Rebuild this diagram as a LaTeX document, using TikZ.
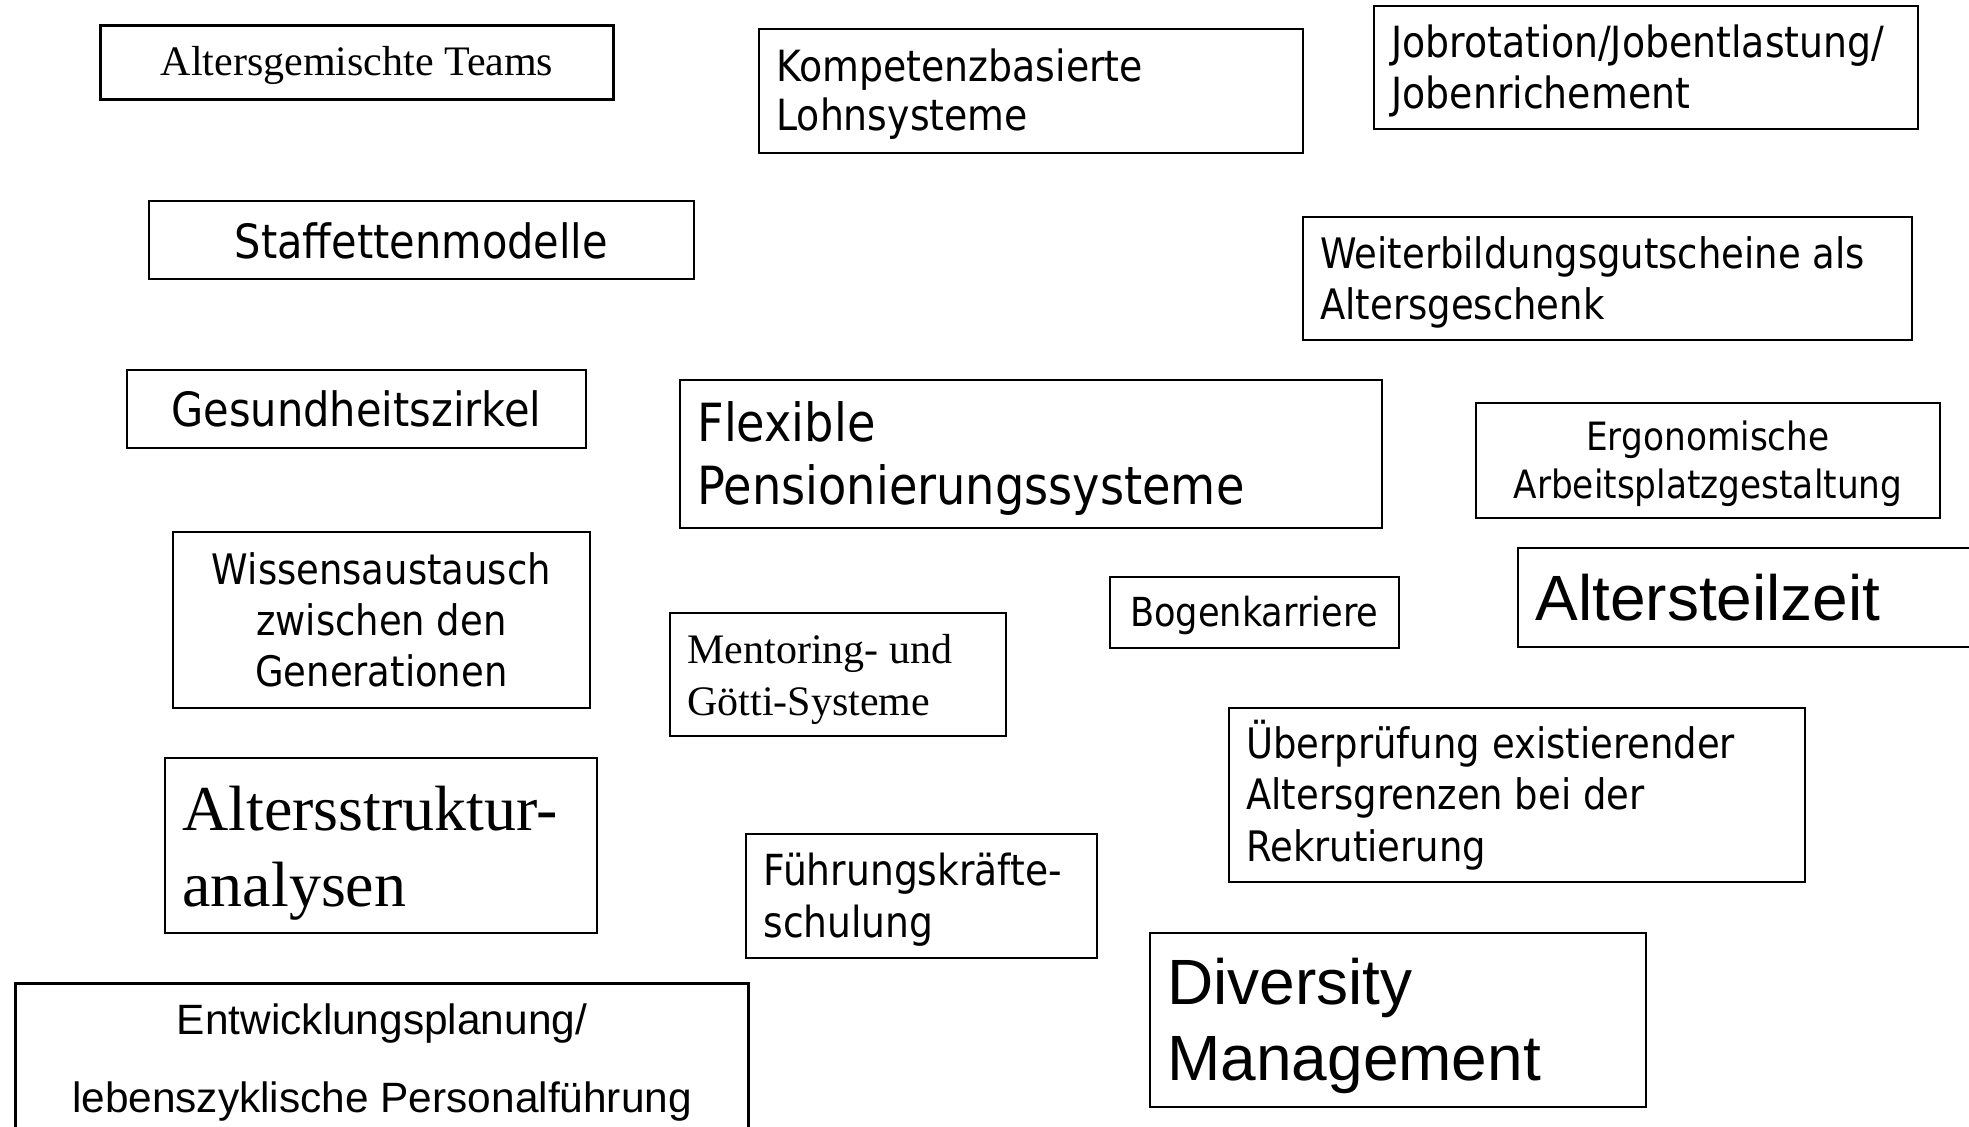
\documentclass[tikz,border=0pt]{standalone}
\usepackage{fontspec}
\setmainfont{Liberation Serif}
\newfontfamily\tah[FakeStretch=0.88]{DejaVu Sans}
\newfontfamily\ari{Liberation Sans}
\newfontfamily\tms{Liberation Serif}
\begin{document}
\begin{tikzpicture}[x=0.5pt,y=-0.5pt,
  box/.style={draw=black, line width=0.9pt, rectangle, anchor=north west, inner sep=0pt},
  thickbox/.style={box, line width=1.5pt},
  ltxt/.style={inner sep=0pt, anchor=west, xshift=9pt, align=left},
  ctxt/.style={inner sep=0pt, anchor=center, align=center}]
\useasboundingbox[fill=white] (0,0) rectangle (1969,1126);
% boxes
\node[thickbox, minimum width=256.5pt, minimum height=37pt] (at) at (99,24) {};
\node[box, minimum width=272pt, minimum height=62pt] (kl) at (758,28) {};
\node[box, minimum width=272pt, minimum height=61.5pt] (jr) at (1373,5) {};
\node[box, minimum width=272.5pt, minimum height=39pt] (sm) at (148,200) {};
\node[box, minimum width=304.5pt, minimum height=61.5pt] (wg) at (1302,216) {};
\node[box, minimum width=229.5pt, minimum height=39pt] (gz) at (126,369) {};
\node[box, minimum width=351pt, minimum height=74pt] (fp) at (679,379) {};
\node[box, minimum width=232pt, minimum height=57.5pt] (ea) at (1475,402) {};
\node[box, minimum width=208.5pt, minimum height=88pt] (wa) at (172,531) {};
\node[box, minimum width=144.5pt, minimum height=35.5pt] (bk) at (1109,576) {};
\node[box, line width=1.2pt, minimum width=240pt, minimum height=49.5pt] (az) at (1517,547) {};
\node[box, minimum width=168pt, minimum height=61.5pt] (mg) at (669,612) {};
\node[box, minimum width=216pt, minimum height=87.5pt] (as) at (164,757) {};
\node[box, minimum width=288pt, minimum height=87pt] (ue) at (1228,707) {};
\node[box, minimum width=175.5pt, minimum height=62pt] (fs) at (745,833) {};
\node[box, minimum width=248pt, minimum height=87pt] (dm) at (1149,932) {};
\node[thickbox, minimum width=366.5pt, minimum height=76pt] (ep) at (14,982) {};
% texts
\node[ctxt, yshift=-1.3pt, font=\tms\fontsize{21}{24}\selectfont] (att) at (at.center) {Altersgemischte Teams};
\node[ltxt, yshift=-1.6pt, font=\tah\fontsize{21.5}{24.5}\selectfont] (klt) at (kl.west) {Kompetenzbasierte\\Lohnsysteme};
\node[ltxt, yshift=-1.9pt, font=\tah\fontsize{21.5}{25.7}\selectfont] (jrt) at (jr.west) {Jobrotation/Jobentlastung/\\Jobenrichement};
\node[ctxt, yshift=-0.6pt, font=\tah\fontsize{23.6}{28}\selectfont] (smt) at (sm.center) {Staffettenmodelle};
\node[ltxt, yshift=-1.9pt, font=\tah\fontsize{21}{25.7}\selectfont] (wgt) at (wg.west) {Weiterbildungsgutscheine als\\Altersgeschenk};
\node[ctxt, font=\tah\fontsize{23.6}{28}\selectfont] (gzt) at (gz.center) {Gesundheitszirkel};
\node[ltxt, yshift=-2.2pt, font=\tah\fontsize{26.3}{31.5}\selectfont] (fpt) at (fp.west) {Flexible\\Pensionierungssysteme};
\node[ctxt, yshift=-1.9pt, font=\tah\fontsize{19.5}{24}\selectfont] (eat) at (ea.center) {Ergonomische\\Arbeitsplatzgestaltung};
\node[ctxt, font=\tah\fontsize{21}{25.4}\selectfont] (wat) at (wa.center) {Wissensaustausch\\zwischen den\\Generationen};
\node[ctxt, yshift=-1.3pt, font=\tah\fontsize{20}{24}\selectfont] (bkt) at (bk.center) {Bogenkarriere};
\node[ltxt, font=\ari\fontsize{32}{37}\selectfont] (azt) at (az.west) {Altersteilzeit};
\node[ltxt, yshift=-2.5pt, font=\tms\fontsize{21}{25.7}\selectfont] (mgt) at (mg.west) {Mentoring- und\\Götti-Systeme};
\node[ltxt, yshift=-4.1pt, font=\tms\fontsize{32}{38}\selectfont] (ast) at (as.west) {Altersstruktur-\\analysen};
\node[ltxt, font=\tah\fontsize{21}{25.7}\selectfont] (uet) at (ue.west) {Überprüfung existierender\\Altersgrenzen bei der\\Rekrutierung};
\node[ltxt, yshift=-1.9pt, font=\tah\fontsize{21.4}{25.7}\selectfont] (fst) at (fs.west) {Führungskräfte-\\schulung};
\node[ltxt, yshift=-3.1pt, font=\ari\fontsize{32}{37.7}\selectfont] (dmt) at (dm.west) {Diversity\\Management};
\node[ctxt, yshift=-1.6pt, font=\ari\fontsize{21.2}{38.8}\selectfont] (ept) at (ep.center) {Entwicklungsplanung/\\lebenszyklische Personalführung};
\end{tikzpicture}
\end{document}
